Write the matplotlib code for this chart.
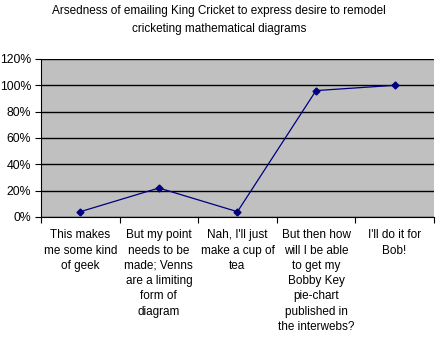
import matplotlib.pyplot as plt
import numpy as np

plt.rcParams['font.family'] = ['Liberation Sans', 'DejaVu Sans']

# data
categories = ['This makes\nme some kind\nof geek',
              'But my point\nneeds to be\nmade; Venns\nare a limiting\nform of\ndiagram',
              "Nah, I'll just\nmake a cup of\ntea",
              'But then how\nwill I be able\nto get my\nBobby Key\npie-chart\npublished in\nthe interwebs?',
              "I'll do it for\nBob!"]
values = [4, 22, 4, 96, 100]
yticks = [0, 20, 40, 60, 80, 100, 120]
title = 'Arsedness of emailing King Cricket to express desire to remodel\ncricketing mathematical diagrams'

fig = plt.figure(figsize=(4.38, 3.39), dpi=100)
ax = fig.add_axes([0.0936, 0.36, 0.897, 0.466])
ax.set_facecolor('#c0c0c0')

x = np.arange(len(categories))
ax.plot(x, values, color='#000080', lw=0.9, marker='D', ms=3.5,
        mfc='#000080', mec='#000080', zorder=3)

ax.set_xlim(-0.5, len(categories) - 0.5)
ax.set_ylim(0, 120)
ax.set_yticks(yticks)
ax.set_yticklabels(['%d%%' % v for v in yticks], fontsize=8.8)
ax.yaxis.grid(True, color='black', lw=1)
ax.set_axisbelow(True)

ax.set_xticks(np.arange(-0.5, len(categories), 1))
ax.set_xticklabels([])
ax.set_xticks(x, minor=True)
ax.set_xticklabels(categories, minor=True, fontsize=8.5, linespacing=1.36)
ax.tick_params(axis='x', which='minor', length=0, pad=9)
ax.tick_params(axis='x', which='major', length=4, direction='out', color='black')
ax.tick_params(axis='y', length=4, direction='out', pad=3)

for s in ['top', 'right']:
    ax.spines[s].set_visible(False)
for s in ['left', 'bottom']:
    ax.spines[s].set_color('black')

fig.text(0.5, 0.984, title, ha='center', va='top', fontsize=8.5, linespacing=1.6)

plt.savefig('out.png', dpi=100)
